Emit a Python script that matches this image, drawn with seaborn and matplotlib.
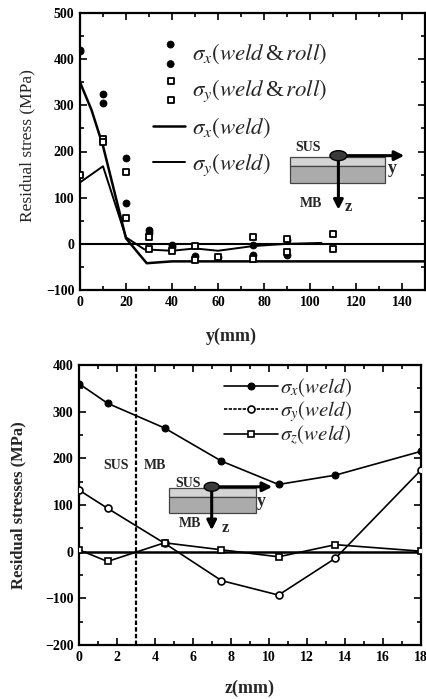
import numpy as np
import pandas as pd
import matplotlib
matplotlib.use("Agg")
import matplotlib.pyplot as plt
from matplotlib.patches import Rectangle, Ellipse
from matplotlib.legend_handler import HandlerPathCollection
from matplotlib.ticker import MultipleLocator
import seaborn as sns

# ---------------- data: top panel (distance y from weld line) ----------------
sx_roll_y = [0, 0, 10, 10, 20, 20, 30, 30, 40, 40, 50, 60, 75, 75, 90, 90]
sx_roll_v = [420, 418, 325, 306, 186, 88, 30, 24, -3, -6, -27, -28, -3, -25, 8, -25]

sy_roll_y = [0, 10, 10, 20, 20, 30, 30, 40, 50, 50, 60, 75, 75, 90, 90, 110, 110]
sy_roll_v = [150, 228, 220, 155, 55, 14, -12, -16, -5, -36, -29, 14, -33, 10, -17, 22, -12]

sx_weld_y = [0, 5, 10, 20, 29, 40, 150]
sx_weld_v = [350, 290, 212, 12, -42, -38, -38]

sy_weld_y = [0, 10, 20, 28, 40, 50, 60, 75, 90, 105]
sy_weld_v = [133, 168, 14, -12, -15, -10, -15, -5, 0, 2]

# ---------------- data: bottom panel (depth z) ----------------
z_pos = [0, 1.5, 4.5, 7.5, 10.5, 13.5, 18]
sx_z = [360, 318, 265, 194, 144, 164, 215]
sy_z = [132, 93, 18, -62, -93, -14, 175]
sz_z = [4, -21, 19, 4, -11, 15, 1]

top_xticks = [0, 20, 40, 60, 80, 100, 120, 140]
top_yticks = [-100, 0, 100, 200, 300, 400, 500]
bot_xticks = [0, 2, 4, 6, 8, 10, 12, 14, 16, 18]
bot_yticks = [-200, -100, 0, 100, 200, 300, 400]

LAB_SX_ROLL = r"$\sigma_x(weld\,$&$\,roll)$"
LAB_SY_ROLL = r"$\sigma_y(weld\,$&$\,roll)$"
LAB_SX_WELD = r"$\sigma_x(weld)$"
LAB_SY_WELD = r"$\sigma_y(weld)$"
LAB_SZ_WELD = r"$\sigma_z(weld)$"

# ---------------- style ----------------
sns.set_style("ticks")
plt.rcParams["font.family"] = ["Liberation Serif", "DejaVu Serif"]
plt.rcParams["mathtext.fontset"] = "stix"
plt.rcParams["xtick.direction"] = "in"
plt.rcParams["ytick.direction"] = "in"
plt.rcParams["axes.edgecolor"] = "black"
plt.rcParams["xtick.color"] = "black"
plt.rcParams["ytick.color"] = "black"

W, H = 427, 699
fig = plt.figure(figsize=(W / 100, H / 100), dpi=100)
fig.patch.set_facecolor("white")


def axes_px(l, r, t, b):
    return fig.add_axes([l / W, 1 - b / H, (r - l) / W, (b - t) / H])


ax1 = axes_px(80, 425, 13, 290)
ax2 = axes_px(79, 421, 365, 645)


class VStackHandler(HandlerPathCollection):
    def get_xdata(self, legend, xdescent, ydescent, width, height, fontsize):
        x = -xdescent + width * 0.55
        return [x, x], [x, x]


def style_axes(ax, xt, yt, xminor, yminor, bold):
    ax.set_xticks(xt)
    ax.set_yticks(yt)
    ax.xaxis.set_minor_locator(MultipleLocator(xminor))
    ax.yaxis.set_minor_locator(MultipleLocator(yminor))
    ax.tick_params(which="both", direction="in", top=True, right=True,
                   labelsize=10, width=1.2, pad=4)
    ax.tick_params(which="major", length=5)
    ax.tick_params(which="minor", length=3)
    for lab in ax.get_xticklabels() + ax.get_yticklabels():
        lab.set_fontweight("bold" if bold else "normal")
    for sp in ax.spines.values():
        sp.set_visible(True)
        sp.set_linewidth(1.6)
        sp.set_color("black")


def schematic(ax, g):
    tr = ax.transAxes
    ax.add_patch(Rectangle((g["x0"], g["yl0"]), g["x1"] - g["x0"], g["yl1"] - g["yl0"],
                           transform=tr, facecolor="#d4d4d4", edgecolor="#444444",
                           lw=0.9, zorder=5))
    ax.add_patch(Rectangle((g["x0"], g["yd0"]), g["x1"] - g["x0"], g["yl0"] - g["yd0"],
                           transform=tr, facecolor="#ababab", edgecolor="#444444",
                           lw=0.9, zorder=5))
    ax.annotate("", xy=(g["ax_r"], g["ey"]), xytext=(g["ex"], g["ey"]),
                xycoords=tr, textcoords=tr, zorder=7,
                arrowprops=dict(arrowstyle="-|>", color="black", lw=2.2,
                                mutation_scale=14, shrinkA=0, shrinkB=0))
    ax.annotate("", xy=(g["ex"], g["ax_d"]), xytext=(g["ex"], g["ey"]),
                xycoords=tr, textcoords=tr, zorder=7,
                arrowprops=dict(arrowstyle="-|>", color="black", lw=2.2,
                                mutation_scale=14, shrinkA=0, shrinkB=0))
    ax.add_patch(Ellipse((g["ex"], g["ey"]), g["ew"], g["eh"], transform=tr,
                         facecolor="#3a3a3a", edgecolor="black", lw=1, zorder=8))
    ax.text(g["sus"][0], g["sus"][1], "SUS", transform=tr, ha="center", va="center",
            fontsize=10, fontweight="bold", zorder=9)
    ax.text(g["mb"][0], g["mb"][1], "MB", transform=tr, ha="center", va="center",
            fontsize=10, fontweight="bold", zorder=9)
    ax.text(g["y"][0], g["y"][1], "y", transform=tr, ha="center", va="center",
            fontsize=13, fontweight="bold", zorder=9)
    ax.text(g["z"][0], g["z"][1], "z", transform=tr, ha="center", va="center",
            fontsize=12, fontweight="bold", zorder=9)


# ---------------- top panel ----------------
ax = ax1
ax.axhline(0, color="black", lw=1.5, zorder=1)
sns.lineplot(x=sx_weld_y, y=sx_weld_v, ax=ax, color="black", lw=1.8,
             label=LAB_SX_WELD, legend=False, zorder=3)
sns.lineplot(x=sy_weld_y, y=sy_weld_v, ax=ax, color="black", lw=1.4,
             label=LAB_SY_WELD, legend=False, zorder=3)
sns.scatterplot(x=sx_roll_y, y=sx_roll_v, ax=ax, color="black", marker="o", s=26,
                edgecolor="black", linewidth=0.5, label=LAB_SX_ROLL,
                legend=False, zorder=4)
sns.scatterplot(x=sy_roll_y, y=sy_roll_v, ax=ax, marker="s", s=20,
                facecolor="white", edgecolor="black", linewidth=1.3,
                label=LAB_SY_ROLL, legend=False, zorder=4)
ax.set_xlim(0, 150)
ax.set_ylim(-100, 500)
style_axes(ax, top_xticks, top_yticks, 10, 50, True)
ax.set_xlabel("y(mm)", fontsize=13, fontweight="bold")
ax.xaxis.set_label_coords(0.44, -0.135)
ax.set_ylabel("Residual stress (MPa)", fontsize=12.5)
ax.yaxis.set_label_coords(-0.128, 0.52)

h, l = ax.get_legend_handles_labels()
order = [l.index(LAB_SX_ROLL), l.index(LAB_SY_ROLL),
         l.index(LAB_SX_WELD), l.index(LAB_SY_WELD)]
hs = [h[i] for i in order]
ls = [l[i] for i in order]
handler = VStackHandler(yoffsets=[0.95, -0.27])
leg = ax.legend(hs, ls, loc="upper left", bbox_to_anchor=(0.185, 0.93),
                frameon=False, fontsize=16.5, handlelength=1.4, handletextpad=0.3,
                labelspacing=0.5, borderaxespad=0, scatterpoints=2,
                handler_map={hs[0]: handler, hs[1]: handler})

schematic(ax, dict(x0=0.609, x1=0.884, yl0=0.448, yl1=0.481, yd0=0.385,
                   ex=0.749, ey=0.485, ew=0.049, eh=0.036, ax_r=0.94, ax_d=0.29,
                   sus=(0.661, 0.516), mb=(0.670, 0.314), y=(0.904, 0.440),
                   z=(0.777, 0.300)))

# ---------------- bottom panel ----------------
ax = ax2
ax.axhline(0, color="black", lw=1.8, zorder=1)
ax.axvline(3, color="black", lw=1.6, linestyle=(0, (2, 1)), zorder=1)
sns.lineplot(x=z_pos, y=sx_z, ax=ax, color="black", lw=1.2, marker="o",
             markersize=5, markerfacecolor="black", markeredgecolor="black",
             label=LAB_SX_WELD, legend=False, zorder=3)
sns.lineplot(x=z_pos, y=sy_z, ax=ax, color="black", lw=1.2,
             marker="o", markersize=5, markerfacecolor="white",
             markeredgecolor="black", markeredgewidth=1.2,
             label=LAB_SY_WELD, legend=False, zorder=3)
sns.lineplot(x=z_pos, y=sz_z, ax=ax, color="black", lw=1.2, marker="s",
             markersize=4.5, markerfacecolor="white", markeredgecolor="black",
             markeredgewidth=1.2, label=LAB_SZ_WELD, legend=False, zorder=3)
ax.set_xlim(0, 18)
ax.set_ylim(-200, 400)
style_axes(ax, bot_xticks, bot_yticks, 1, 50, True)
ax.set_xlabel("z(mm)", fontsize=13, fontweight="bold")
ax.xaxis.set_label_coords(0.5, -0.125)
ax.set_ylabel("Residual stresses (MPa)", fontsize=12, fontweight="bold")
ax.yaxis.set_label_coords(-0.155, 0.5)
ax.text(1.95, 184, "SUS", ha="center", va="center", fontsize=10, fontweight="bold")
ax.text(4.0, 184, "MB", ha="center", va="center", fontsize=10, fontweight="bold")
leg2 = ax.legend(loc="upper left", bbox_to_anchor=(0.40, 0.99), frameon=False,
                 fontsize=15, handlelength=2.6, handletextpad=0.1, labelspacing=0.0,
                 borderaxespad=0)
leg2.get_lines()[1].set_linestyle((0, (2, 0.8)))

schematic(ax, dict(x0=0.264, x1=0.518, yl0=0.530, yl1=0.560, yd0=0.4725,
                   ex=0.388, ey=0.565, ew=0.044, eh=0.032, ax_r=0.565, ax_d=0.41,
                   sus=(0.320, 0.578), mb=(0.325, 0.435), y=(0.534, 0.512),
                   z=(0.427, 0.417)))

fig.savefig("out.png", dpi=100, facecolor="white")
